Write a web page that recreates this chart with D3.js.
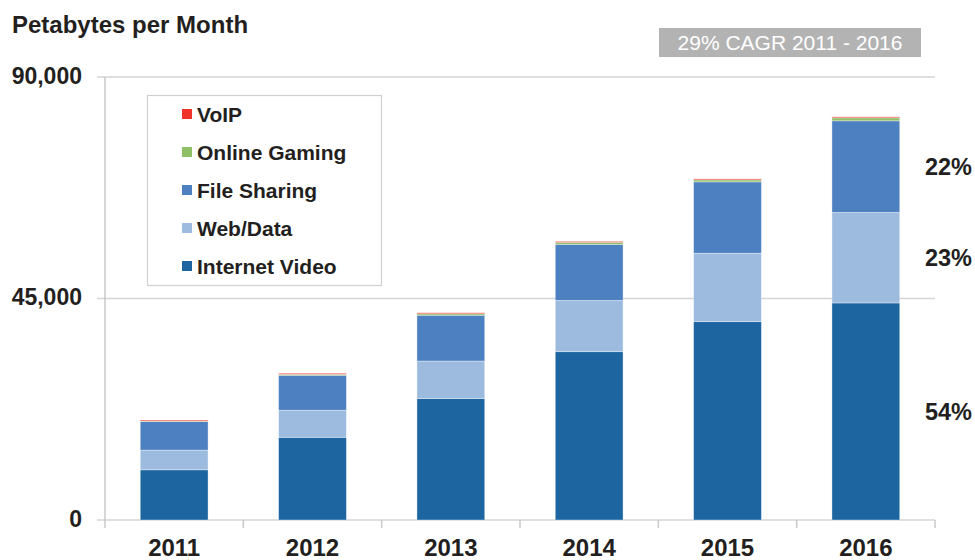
<!DOCTYPE html>
<html><head><meta charset="utf-8">
<script src="https://cdn.jsdelivr.net/npm/d3@7"></script>
<style>
html,body{margin:0;padding:0;background:#fff;}
svg{display:block;font-family:"Liberation Sans",Arial,Helvetica,sans-serif;}
</style></head>
<body><svg id="chart" width="975" height="560"></svg>
<script>
const years = ["2011","2012","2013","2014","2015","2016"];
const internetVideo = [10200,16800,24700,34200,40300,44100];
const webData      = [4000, 5500, 7600, 10400,13900,18400];
const fileSharing  = [5800, 7100, 9300, 11400,14500,18600];
const onlineGaming = [100,  200,  300,  400,  400,  600];
const voip         = [200,  200,  200,  200,  200,  200];
const seriesNames = ["Internet Video","Web/Data","File Sharing","Online Gaming","VoIP"];
const seriesColors = ["#1c65a0","#9dbbde","#4d80c1","#8fbf66","#f0342a"];
const yTicks = [0,45000,90000];
const shareLabels = ["54%","23%","22%"]; // 2016 shares: Internet Video, Web/Data, File Sharing
const titleText = "Petabytes per Month";
const cagrText = "29% CAGR 2011 - 2016";

(function(){
const allSeries = [internetVideo, webData, fileSharing, onlineGaming, voip];
const rows = years.map((yr,i)=>{const r={year:yr}; seriesNames.forEach((n,k)=>r[n]=allSeries[k][i]); return r;});
const stacked = d3.stack().keys(seriesNames)(rows);

const svg = d3.select("#chart");
const pL = 105, pR = 935, pT = 77, pB = 520;
const x = d3.scaleBand().domain(years).range([pL,pR]).paddingInner(0.51).paddingOuter(0.255);
const y = d3.scaleLinear().domain([0,90000]).range([pB,pT]);

svg.append("g").selectAll("line").data(yTicks).join("line")
  .attr("x1",97).attr("x2",pR).attr("y1",d=>y(d)).attr("y2",d=>y(d))
  .attr("stroke","#d4d4d4").attr("stroke-width",1.5);
svg.append("line").attr("x1",pL).attr("x2",pL).attr("y1",pT).attr("y2",pB+8)
  .attr("stroke","#c8c8c8").attr("stroke-width",1.5);
const step = x.step();
svg.append("g").selectAll("line").data(d3.range(1,years.length+1)).join("line")
  .attr("x1",d=>pL+d*step).attr("x2",d=>pL+d*step).attr("y1",pB).attr("y2",pB+8)
  .attr("stroke","#c8c8c8").attr("stroke-width",1.5);

svg.append("g").selectAll("text").data(yTicks).join("text")
  .attr("x",82).attr("y",d=>y(d)).attr("dy","0.3em").attr("text-anchor","end")
  .attr("font-size",23).attr("font-weight","bold").attr("fill","#231f20")
  .text(d=>d3.format(",")(d));

svg.append("g").selectAll("g").data(stacked).join("g")
  .attr("fill",(d,i)=>seriesColors[i])
  .selectAll("rect").data(d=>d).join("rect")
  .attr("x",d=>x(d.data.year)).attr("width",x.bandwidth())
  .attr("y",d=>y(d[1])).attr("height",d=>y(d[0])-y(d[1]))
  .attr("stroke","rgba(255,255,255,0.45)").attr("stroke-width",0.8);

svg.append("g").selectAll("text").data(years).join("text")
  .attr("x",d=>x(d)+x.bandwidth()/2).attr("y",556).attr("text-anchor","middle")
  .attr("font-size",24).attr("font-weight","bold").attr("fill","#231f20").text(d=>d);

svg.append("text").attr("x",12).attr("y",33).attr("font-size",24).attr("font-weight","bold")
  .attr("fill","#231f20").text(titleText);

svg.append("rect").attr("x",659).attr("y",28).attr("width",262).attr("height",29).attr("fill","#b3b3b3");
svg.append("text").attr("x",790).attr("y",50).attr("text-anchor","middle").attr("font-size",21)
  .attr("fill","#fff").text(cagrText);

const last = years.length-1;
svg.append("g").selectAll("text").data(shareLabels).join("text")
  .attr("x",972).attr("y",(d,i)=>y((stacked[i][last][0]+stacked[i][last][1])/2))
  .attr("dy","0.36em").attr("text-anchor","end")
  .attr("font-size",23.5).attr("font-weight","bold").attr("fill","#231f20").text(d=>d);

const lg = svg.append("g");
lg.append("rect").attr("x",147.5).attr("y",95.5).attr("width",234).attr("height",190)
  .attr("fill","#fff").attr("stroke","#d0d0d0").attr("stroke-width",1.2);
const legendOrder = [4,3,2,1,0];
legendOrder.forEach((k,j)=>{
  const cy = 114 + j*38;
  lg.append("rect").attr("x",182).attr("y",cy-5).attr("width",10).attr("height",10).attr("fill",seriesColors[k]);
  lg.append("text").attr("x",197).attr("y",cy).attr("dy","0.36em").attr("font-size",21)
    .attr("font-weight","bold").attr("fill","#231f20").text(seriesNames[k]);
});
})();
</script></body></html>
